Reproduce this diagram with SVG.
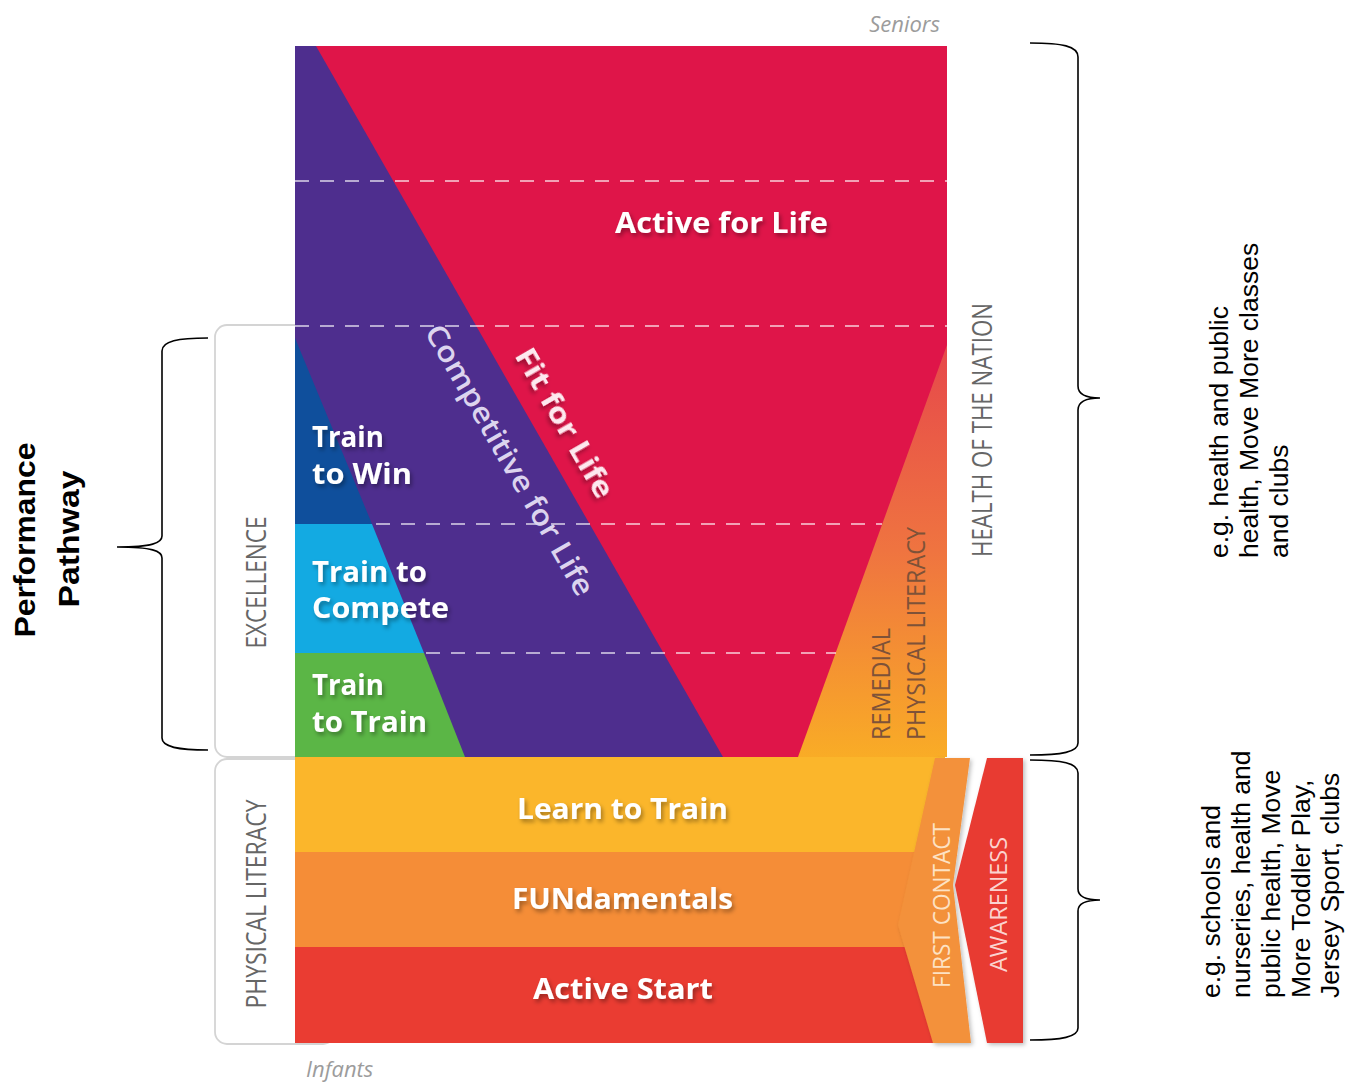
<svg xmlns="http://www.w3.org/2000/svg" width="1352" height="1084" viewBox="0 0 1352 1084">
<defs>
<style>
.lbl{font-family:"Open Sans","Liberation Sans",sans-serif;font-weight:700;fill:#ffffff;font-size:29px}
.side{font-family:"Open Sans","Liberation Sans",sans-serif;font-weight:400;fill:#666666;font-size:27px}
.rem{font-family:"Open Sans","Liberation Sans",sans-serif;font-weight:400;fill:#7e5238;font-size:25px}
.age{font-family:"Open Sans","Liberation Sans",sans-serif;font-style:italic;font-weight:400;fill:#9c9c9c;font-size:22px}
.note{font-family:"Liberation Sans",Arial,sans-serif;font-size:26.5px;fill:#000}
.dash{stroke:#ffffff;stroke-opacity:0.6;stroke-width:2;stroke-dasharray:14 11;fill:none}
.brace{fill:none;stroke:#000;stroke-width:1.6}
.box{fill:#ffffff;stroke:#d4d4d4;stroke-width:1.8}
</style>
<filter id="ts" x="-10%" y="-30%" width="120%" height="160%">
<feDropShadow dx="2" dy="3" stdDeviation="2.2" flood-color="#000" flood-opacity="0.35"/>
</filter>
<filter id="ss" x="-20%" y="-5%" width="140%" height="110%">
<feDropShadow dx="2" dy="2" stdDeviation="2" flood-color="#000" flood-opacity="0.25"/>
</filter>
<linearGradient id="remg" gradientUnits="userSpaceOnUse" x1="0" y1="345" x2="0" y2="757">
<stop offset="0" stop-color="#e6484b"/>
<stop offset="0.5" stop-color="#ef7440"/>
<stop offset="1" stop-color="#f9ac26"/>
</linearGradient>
</defs>
<rect width="1352" height="1084" fill="#ffffff"/>

<g id="side-boxes">
<rect class="box" x="215" y="325" width="120" height="432" rx="12"/>
<rect class="box" x="215" y="759" width="120" height="285" rx="12"/>
</g>

<g id="upper-stages">
<rect x="295" y="46" width="652" height="711" fill="#df1549"/>
<polygon points="295,46 316,46 723,757 295,757" fill="#4e2e8e"/>
<polygon points="295,338 372,524 295,524" fill="#0f4f9c"/>
<polygon points="295,524 372,524 424,653 295,653" fill="#13aae2"/>
<polygon points="295,653 424,653 465,757 295,757" fill="#5bb646"/>
<polygon points="798,757 947,345 947,757" fill="url(#remg)"/>
</g>

<g id="dashes">
<line class="dash" x1="295" y1="181" x2="947" y2="181"/>
<line class="dash" x1="295" y1="326" x2="947" y2="326"/>
<line class="dash" x1="376" y1="524" x2="882" y2="524"/>
<line class="dash" x1="426" y1="653" x2="836" y2="653"/>
</g>

<g id="lower-stages">
<rect x="295" y="757" width="650" height="95" fill="#fbb62b"/>
<rect x="295" y="852" width="650" height="95" fill="#f58d37"/>
<rect x="295" y="947" width="650" height="96" fill="#ea3c32"/>
</g>

<g id="first-contact">
<polygon points="935,758 970,758 953,885 971,1043 933,1043 898,925" fill="#f3913a" filter="url(#ss)"/>
<text class="side" style="fill:#fde2c4;font-size:24px" transform="translate(950,905.5) rotate(-90)" text-anchor="middle" textLength="165" lengthAdjust="spacingAndGlyphs">FIRST CONTACT</text>
</g>
<g id="awareness">
<polygon points="987,758 1023,758 1023,1043 987,1043 955,885" fill="#e83a33" filter="url(#ss)"/>
<text class="side" style="fill:#fbd3cf;font-size:24px" transform="translate(1007,904.5) rotate(-90)" text-anchor="middle" textLength="135" lengthAdjust="spacingAndGlyphs">AWARENESS</text>
</g>

<g id="active-for-life"><text class="lbl" filter="url(#ts)" x="721.5" y="233" text-anchor="middle" textLength="213" lengthAdjust="spacingAndGlyphs">Active for Life</text></g>
<g id="fit-for-life"><text class="lbl" style="fill:#fde9ef" filter="url(#ts)" transform="translate(556,428) rotate(60)" text-anchor="middle" textLength="168" lengthAdjust="spacingAndGlyphs">Fit for Life</text></g>
<g id="competitive-for-life"><text class="lbl" style="fill:#dcd4ee;font-weight:600" transform="translate(501,465) rotate(60)" text-anchor="middle" textLength="308" lengthAdjust="spacingAndGlyphs">Competitive for Life</text></g>

<g id="train-to-win">
<text class="lbl" filter="url(#ts)" x="312" y="447" textLength="72" lengthAdjust="spacingAndGlyphs">Train</text>
<text class="lbl" filter="url(#ts)" x="312" y="484" textLength="100" lengthAdjust="spacingAndGlyphs">to Win</text>
</g>
<g id="train-to-compete">
<text class="lbl" filter="url(#ts)" x="312" y="582" textLength="115" lengthAdjust="spacingAndGlyphs">Train to</text>
<text class="lbl" filter="url(#ts)" x="312" y="618" textLength="137" lengthAdjust="spacingAndGlyphs">Compete</text>
</g>
<g id="train-to-train">
<text class="lbl" filter="url(#ts)" x="312" y="695" textLength="72" lengthAdjust="spacingAndGlyphs">Train</text>
<text class="lbl" filter="url(#ts)" x="312" y="732" textLength="115" lengthAdjust="spacingAndGlyphs">to Train</text>
</g>

<g id="learn-to-train"><text class="lbl" filter="url(#ts)" x="622.5" y="819" text-anchor="middle" textLength="211" lengthAdjust="spacingAndGlyphs">Learn to Train</text></g>
<g id="fundamentals"><text class="lbl" filter="url(#ts)" x="622.5" y="909" text-anchor="middle" textLength="221" lengthAdjust="spacingAndGlyphs">FUNdamentals</text></g>
<g id="active-start"><text class="lbl" filter="url(#ts)" x="623" y="999" text-anchor="middle" textLength="180" lengthAdjust="spacingAndGlyphs">Active Start</text></g>

<g id="remedial">
<text class="rem" transform="translate(890,740) rotate(-90)" textLength="112" lengthAdjust="spacingAndGlyphs">REMEDIAL</text>
<text class="rem" transform="translate(925,740) rotate(-90)" textLength="213" lengthAdjust="spacingAndGlyphs">PHYSICAL LITERACY</text>
</g>

<g id="labels">
<text class="side" transform="translate(266,582.5) rotate(-90)" text-anchor="middle" textLength="132" lengthAdjust="spacingAndGlyphs">EXCELLENCE</text>
<text class="side" transform="translate(266,904) rotate(-90)" text-anchor="middle" textLength="209" lengthAdjust="spacingAndGlyphs">PHYSICAL LITERACY</text>
<text class="side" transform="translate(992,430) rotate(-90)" text-anchor="middle" textLength="254" lengthAdjust="spacingAndGlyphs">HEALTH OF THE NATION</text>
<text class="age" x="940" y="32" text-anchor="end">Seniors</text>
<text class="age" x="306" y="1077">Infants</text>
</g>

<g id="connectors">
<path class="brace" d="M1030,43 C1062,43 1078,46 1078,57 L1078,386 C1078,394 1086,398 1100,398 C1086,398 1078,402 1078,410 L1078,743 C1078,752 1062,755 1030,755"/>
<path class="brace" d="M1030,760 C1062,760 1078,763 1078,773 L1078,889 C1078,896 1086,900 1100,900 C1086,900 1078,904 1078,911 L1078,1028 C1078,1037 1062,1040 1030,1040"/>
<path class="brace" d="M208,338 C178,338 162,341 162,351 L162,536 C162,543 152,547 117,547 C152,547 162,551 162,558 L162,738 C162,747 178,750 208,750"/>
</g>

<g id="performance-pathway">
<text style="font-family:'Liberation Sans',Arial,sans-serif;font-weight:700;font-size:29px;fill:#000" transform="translate(35,540) rotate(-90)" text-anchor="middle" textLength="195" lengthAdjust="spacingAndGlyphs">Performance</text>
<text style="font-family:'Liberation Sans',Arial,sans-serif;font-weight:700;font-size:29px;fill:#000" transform="translate(79,539) rotate(-90)" text-anchor="middle" textLength="137" lengthAdjust="spacingAndGlyphs">Pathway</text>
</g>

<g id="note-upper">
<text class="note" transform="translate(1228,558) rotate(-90)">e.g. health and public</text>
<text class="note" transform="translate(1258,558) rotate(-90)">health, Move More classes</text>
<text class="note" transform="translate(1288,558) rotate(-90)">and clubs</text>
</g>
<g id="note-lower">
<text class="note" transform="translate(1220,998) rotate(-90)">e.g. schools and</text>
<text class="note" transform="translate(1250,998) rotate(-90)">nurseries, health and</text>
<text class="note" transform="translate(1280,998) rotate(-90)">public health, Move</text>
<text class="note" transform="translate(1310,998) rotate(-90)">More Toddler Play,</text>
<text class="note" transform="translate(1339,998) rotate(-90)">Jersey Sport, clubs</text>
</g>
</svg>
